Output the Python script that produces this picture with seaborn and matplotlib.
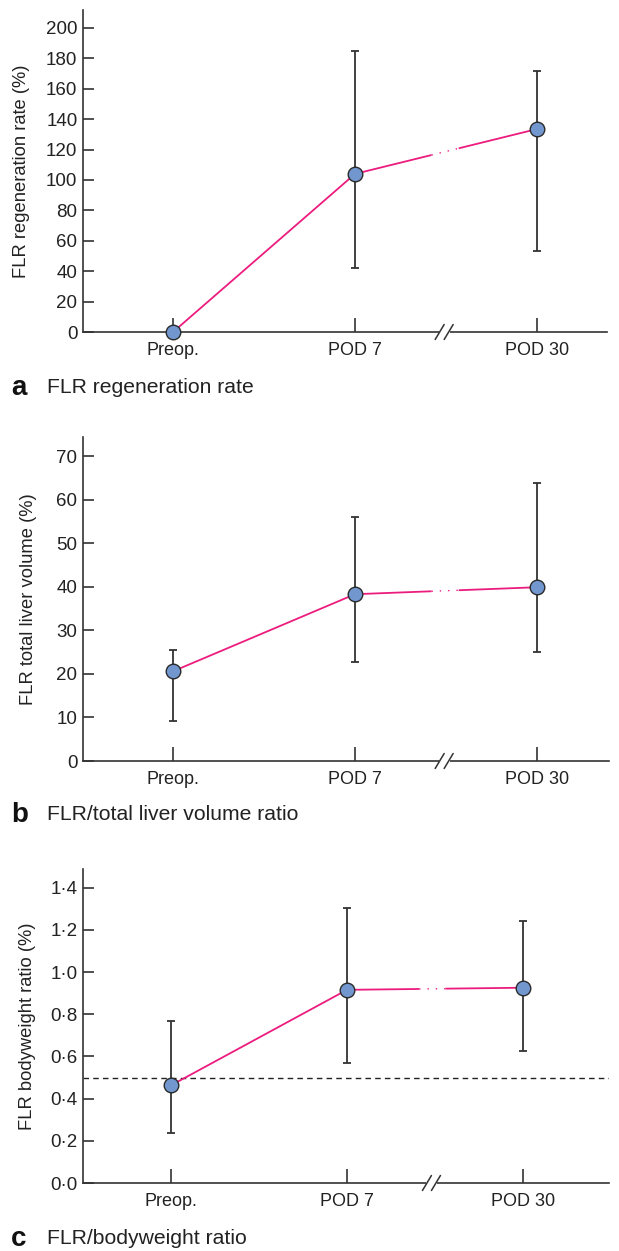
import numpy as np
import pandas as pd
import matplotlib
matplotlib.use("Agg")
import matplotlib.pyplot as plt
import matplotlib.transforms as mtransforms
import seaborn as sns

# ---------------- data ----------------
timepoints = ["Preop.", "POD 7", "POD 30"]

regen_mean = [0.0, 104.0, 133.5]
regen_low = [np.nan, 42.0, 53.0]
regen_high = [np.nan, 185.0, 171.5]
regen_ticks = [0, 20, 40, 60, 80, 100, 120, 140, 160, 180, 200]
regen_tick_labels = ["0", "20", "40", "60", "80", "100", "120", "140", "160", "180", "200"]

tlv_mean = [20.6, 38.3, 39.9]
tlv_low = [9.1, 22.7, 25.0]
tlv_high = [25.4, 56.0, 63.9]
tlv_ticks = [0, 10, 20, 30, 40, 50, 60, 70]
tlv_tick_labels = ["0", "10", "20", "30", "40", "50", "60", "70"]

bw_mean = [0.463, 0.916, 0.926]
bw_low = [0.236, 0.568, 0.628]
bw_high = [0.767, 1.305, 1.244]
bw_threshold = 0.5
bw_ticks = [0.0, 0.2, 0.4, 0.6, 0.8, 1.0, 1.2, 1.4]
bw_tick_labels = ["0·0", "0·2", "0·4", "0·6", "0·8", "1·0", "1·2", "1·4"]

# ---------------- style ----------------
sns.set_theme(style="white")
plt.rcParams["font.family"] = ["Liberation Sans", "DejaVu Sans"]

LINE_C = "#EC1C7E"
MARK_C = "#7297CF"
AX_C = "#333333"
TXT_C = "#222222"

W, H = 619, 1251
fig = plt.figure(figsize=(W / 100, H / 100), dpi=100)


def px_axes(left, top, right, bottom):
    return fig.add_axes([left / W, 1 - bottom / H, (right - left) / W, (bottom - top) / H])


panels = [
    dict(box=(83, 10, 607, 332), xlim=(-0.495, 2.385), ylim=(0, 211.8),
         mean=regen_mean, low=regen_low, high=regen_high,
         ticks=regen_ticks, tlabels=regen_tick_labels,
         ylabel="FLR regeneration rate (%)", ylab_x=30,
         letter="a", caption="FLR regeneration rate", cap_y=388, brk=1.49),
    dict(box=(83, 437, 609, 761), xlim=(-0.495, 2.396), ylim=(0, 74.4),
         mean=tlv_mean, low=tlv_low, high=tlv_high,
         ticks=tlv_ticks, tlabels=tlv_tick_labels,
         ylabel="FLR total liver volume (%)", ylab_x=37,
         letter="b", caption="FLR/total liver volume ratio", cap_y=815, brk=1.49),
    dict(box=(83, 869, 609, 1183), xlim=(-0.5, 2.489), ylim=(0, 1.489),
         mean=bw_mean, low=bw_low, high=bw_high,
         ticks=bw_ticks, tlabels=bw_tick_labels,
         ylabel="FLR bodyweight ratio (%)", ylab_x=36,
         letter="c", caption="FLR/bodyweight ratio", cap_y=1239, brk=1.48,
         hline=bw_threshold),
]

for p in panels:
    left, top, right, bottom = p["box"]
    ax = px_axes(left, top, right, bottom)
    xpos = np.arange(len(timepoints))
    df = pd.DataFrame({"x": xpos, "mean": p["mean"], "low": p["low"], "high": p["high"]})

    if "hline" in p:
        ax.axhline(p["hline"], color="#222222", lw=1.0, ls=(0, (4, 3)), zorder=1)

    # error bars
    yerr = np.vstack([df["mean"] - df["low"], df["high"] - df["mean"]])
    ax.errorbar(df["x"], df["mean"], yerr=yerr, fmt="none", ecolor=AX_C,
                elinewidth=1.3, capsize=2.9, capthick=1.3, zorder=2)

    # connecting line
    sns.lineplot(data=df, x="x", y="mean", color=LINE_C, lw=1.3, ax=ax,
                 zorder=3, legend=False)

    # broken (dotted) part of the line near the axis break
    g0, g1 = p["brk"] - 0.07, p["brk"] + 0.08
    gx = np.array([g0, g1])
    gy = np.interp(gx, df["x"], df["mean"])
    ax.plot(gx, gy, color="white", lw=3, zorder=3.2, solid_capstyle="butt")
    ax.plot(gx, gy, color=LINE_C, lw=1.0, ls=(0, (1, 5)), zorder=3.3)

    # markers
    sns.scatterplot(data=df, x="x", y="mean", s=110, color=MARK_C,
                    edgecolor="#2a2a2a", linewidth=1.0, ax=ax, zorder=4,
                    clip_on=False, legend=False)

    ax.set_xlim(*p["xlim"])
    ax.set_ylim(*p["ylim"])
    ax.set_xticks(xpos)
    ax.set_xticklabels(timepoints)
    ax.set_yticks(p["ticks"])
    ax.set_yticklabels(p["tlabels"])
    ax.tick_params(axis="x", direction="in", length=10, width=1.2, colors=AX_C,
                   labelcolor=TXT_C, labelsize=13, pad=7, bottom=True)
    ax.tick_params(axis="y", direction="in", length=8, width=1.2, colors=AX_C,
                   labelcolor=TXT_C, labelsize=13.5, pad=4, left=True)
    for s in ["top", "right"]:
        ax.spines[s].set_visible(False)
    for s in ["left", "bottom"]:
        ax.spines[s].set_color(AX_C)
        ax.spines[s].set_linewidth(1.2)
    ax.set_xlabel("")
    ax.set_ylabel(p["ylabel"], fontsize=13.2, color=TXT_C)
    ax.yaxis.set_label_coords((p["ylab_x"] - left) / (right - left), 0.5)

    # axis break marks "//"
    trans = mtransforms.blended_transform_factory(ax.transData, ax.transAxes)
    ppu = (right - left) / (p["xlim"][1] - p["xlim"][0])
    hh = (bottom - top)
    dx = 4.5 / ppu
    dy = 7.5 / hh
    sep = 4.5 / ppu
    xb = p["brk"]
    ax.plot([xb - sep - 0.2 * dx, xb + sep + 0.2 * dx], [0, 0], color="white", lw=3,
            transform=trans, clip_on=False, zorder=5, solid_capstyle="butt")
    for c in (xb - sep, xb + sep):
        ax.plot([c - dx, c + dx], [-dy, dy], color=AX_C, lw=1.1,
                transform=trans, clip_on=False, zorder=6)

    # panel caption
    fig.text(11 / W, 1 - p["cap_y"] / H, p["letter"], fontsize=20, fontweight="bold",
             color="#111111", va="center", ha="left")
    fig.text(47 / W, 1 - p["cap_y"] / H, p["caption"], fontsize=15.2,
             color=TXT_C, va="center", ha="left")

fig.savefig("out.png", dpi=100)
